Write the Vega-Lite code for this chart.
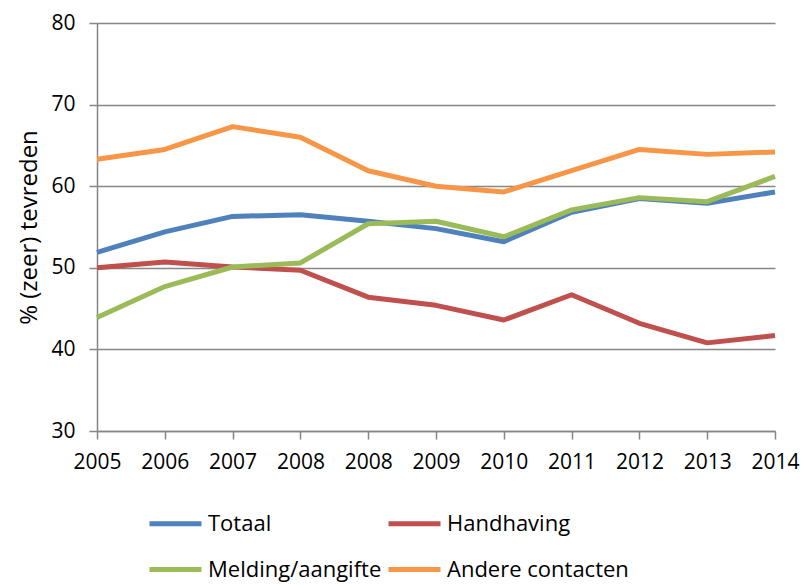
{
  "$schema": "https://vega.github.io/schema/vega-lite/v6.json",
  "width": 678,
  "height": 408,
  "autosize": "none",
  "padding": {"left": 97, "top": 23, "right": 31, "bottom": 154},
  "background": "white",
  "config": {"view": {"stroke": null}, "font": "Open Sans"},
  "data": {"values": [
    {"pos": 0, "reeks": "Totaal", "pct": 51.9},
    {"pos": 1, "reeks": "Totaal", "pct": 54.4},
    {"pos": 2, "reeks": "Totaal", "pct": 56.3},
    {"pos": 3, "reeks": "Totaal", "pct": 56.5},
    {"pos": 4, "reeks": "Totaal", "pct": 55.7},
    {"pos": 5, "reeks": "Totaal", "pct": 54.8},
    {"pos": 6, "reeks": "Totaal", "pct": 53.2},
    {"pos": 7, "reeks": "Totaal", "pct": 56.8},
    {"pos": 8, "reeks": "Totaal", "pct": 58.5},
    {"pos": 9, "reeks": "Totaal", "pct": 57.9},
    {"pos": 10, "reeks": "Totaal", "pct": 59.3},
    {"pos": 0, "reeks": "Handhaving", "pct": 50.0},
    {"pos": 1, "reeks": "Handhaving", "pct": 50.7},
    {"pos": 2, "reeks": "Handhaving", "pct": 50.1},
    {"pos": 3, "reeks": "Handhaving", "pct": 49.7},
    {"pos": 4, "reeks": "Handhaving", "pct": 46.4},
    {"pos": 5, "reeks": "Handhaving", "pct": 45.4},
    {"pos": 6, "reeks": "Handhaving", "pct": 43.6},
    {"pos": 7, "reeks": "Handhaving", "pct": 46.7},
    {"pos": 8, "reeks": "Handhaving", "pct": 43.2},
    {"pos": 9, "reeks": "Handhaving", "pct": 40.8},
    {"pos": 10, "reeks": "Handhaving", "pct": 41.7},
    {"pos": 0, "reeks": "Melding/aangifte", "pct": 43.9},
    {"pos": 1, "reeks": "Melding/aangifte", "pct": 47.7},
    {"pos": 2, "reeks": "Melding/aangifte", "pct": 50.1},
    {"pos": 3, "reeks": "Melding/aangifte", "pct": 50.6},
    {"pos": 4, "reeks": "Melding/aangifte", "pct": 55.4},
    {"pos": 5, "reeks": "Melding/aangifte", "pct": 55.7},
    {"pos": 6, "reeks": "Melding/aangifte", "pct": 53.8},
    {"pos": 7, "reeks": "Melding/aangifte", "pct": 57.1},
    {"pos": 8, "reeks": "Melding/aangifte", "pct": 58.6},
    {"pos": 9, "reeks": "Melding/aangifte", "pct": 58.1},
    {"pos": 10, "reeks": "Melding/aangifte", "pct": 61.2},
    {"pos": 0, "reeks": "Andere contacten", "pct": 63.3},
    {"pos": 1, "reeks": "Andere contacten", "pct": 64.5},
    {"pos": 2, "reeks": "Andere contacten", "pct": 67.3},
    {"pos": 3, "reeks": "Andere contacten", "pct": 66.0},
    {"pos": 4, "reeks": "Andere contacten", "pct": 61.9},
    {"pos": 5, "reeks": "Andere contacten", "pct": 60.0},
    {"pos": 6, "reeks": "Andere contacten", "pct": 59.3},
    {"pos": 7, "reeks": "Andere contacten", "pct": 61.9},
    {"pos": 8, "reeks": "Andere contacten", "pct": 64.5},
    {"pos": 9, "reeks": "Andere contacten", "pct": 63.9},
    {"pos": 10, "reeks": "Andere contacten", "pct": 64.2}
  ]},
  "mark": {"type": "line", "strokeWidth": 5, "strokeJoin": "round", "strokeCap": "butt"},
  "encoding": {
    "x": {
      "field": "pos", "type": "ordinal",
      "scale": {"type": "point", "padding": 0},
      "axis": {
        "title": null,
        "labelAngle": 0,
        "labelExpr": "['2005','2006','2007','2008','2008','2009','2010','2011','2012','2013','2014'][datum.value]",
        "labelFontSize": 21, "labelColor": "#000000", "labelPadding": 12,
        "tickSize": 8, "tickColor": "#868686", "domainColor": "#868686", "domainWidth": 1.5, "tickWidth": 1.5,
        "grid": false
      }
    },
    "y": {
      "field": "pct", "type": "quantitative",
      "scale": {"domain": [30, 80], "nice": false, "zero": false},
      "axis": {
        "title": "% (zeer) tevreden",
        "titleFontSize": 24, "titleFontWeight": "normal", "titleColor": "#000000", "titlePadding": 9,
        "values": [30, 40, 50, 60, 70, 80],
        "labelFontSize": 21, "labelColor": "#000000", "labelPadding": 14,
        "tickSize": 8, "tickColor": "#868686", "domainColor": "#868686", "domainWidth": 1.5, "tickWidth": 1.5,
        "grid": true, "gridColor": "#868686", "gridWidth": 1.5
      }
    },
    "color": {
      "field": "reeks", "type": "nominal",
      "scale": {
        "domain": ["Totaal", "Handhaving", "Melding/aangifte", "Andere contacten"],
        "range": ["#4F81BD", "#C0504D", "#9BBB59", "#F79646"]
      },
      "legend": {
        "title": null,
        "orient": "none",
        "legendX": 50,
        "legendY": 472,
        "direction": "horizontal",
        "columns": 2,
        "columnPadding": -4,
        "rowPadding": 6,
        "symbolType": "stroke",
        "symbolSize": 2704,
        "symbolStrokeWidth": 5,
        "labelFontSize": 22,
        "labelColor": "#000000",
        "labelOffset": 4,
        "labelLimit": 300
      }
    }
  }
}
